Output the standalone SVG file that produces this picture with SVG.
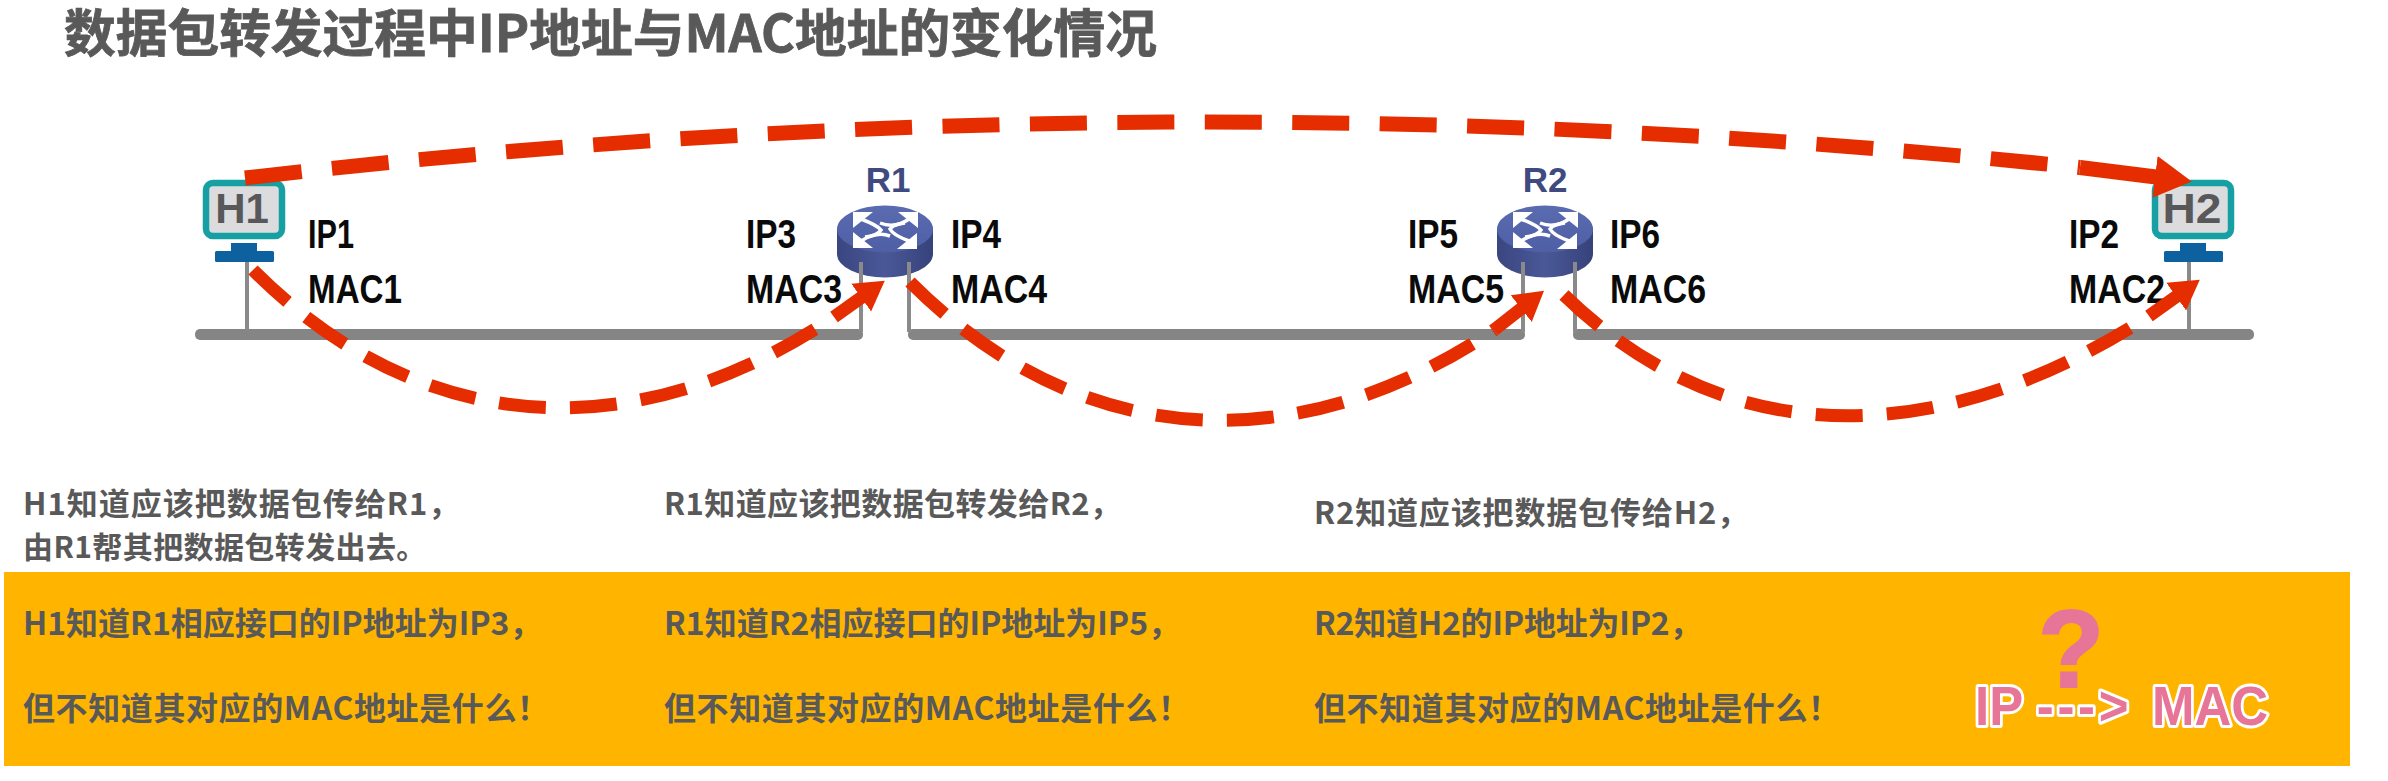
<svg xmlns="http://www.w3.org/2000/svg" width="2388" height="781" viewBox="0 0 2388 781">
<style>
.cjk{font-family:"Noto Sans CJK SC","Noto Sans",sans-serif;font-weight:700;fill:#595959}
.t1{font-size:31px}.t2{font-size:32px}
.lab{font-family:"Liberation Sans",Arial,sans-serif;font-weight:700;font-size:40px;fill:#0a0a0a}
.host{font-family:"Liberation Sans",Arial,sans-serif;font-weight:700;font-size:42px;fill:#58585a;text-anchor:middle}
.rname{font-family:"Liberation Sans",Arial,sans-serif;font-weight:700;font-size:35px;fill:#3f4a80;text-anchor:middle}
.bus{fill:#858585}
.drop{stroke:#8a8a8a;stroke-width:4;fill:none}
.arc{fill:none;stroke:#e52d00;stroke-width:13}
.arcbig{fill:none;stroke:#e52d00;stroke-width:15}
.d1{stroke-dasharray:57 30.45}
.d2{stroke-dasharray:47 24.1}
.pink{font-family:"Liberation Sans",Arial,sans-serif;font-weight:700;fill:#e77597}
</style>
<defs>
<marker id="headS" markerUnits="userSpaceOnUse" markerWidth="40" markerHeight="44" refX="1" refY="22" orient="auto" viewBox="0 0 40 44"><path d="M0 5L29 22L0 39Z" fill="#e52d00"/></marker>
<marker id="headL" markerUnits="userSpaceOnUse" markerWidth="46" markerHeight="50" refX="1" refY="25" orient="auto" viewBox="0 0 46 50"><path d="M0 4L37 25L0 46Z" fill="#e52d00"/></marker>
<linearGradient id="rtop" x1="0" y1="0" x2="0" y2="1"><stop offset="0" stop-color="#5a6bb0"/><stop offset="1" stop-color="#4f5fa6"/></linearGradient>
<linearGradient id="rside" x1="0" y1="0" x2="1" y2="0"><stop offset="0" stop-color="#3a4680"/><stop offset=".5" stop-color="#4a5898"/><stop offset="1" stop-color="#36427a"/></linearGradient>
<g id="routerBody">
<path d="M-48 0V25A48 23.500 0 0 0 48 25V0Z" fill="url(#rside)"/>
<ellipse cx="0" cy="0" rx="48" ry="23.500" fill="url(#rtop)"/>
<g fill="#fff"><path d="M-32-17H-12L-32 -1Z"/><path d="M33-17H13L33 -1Z"/><path d="M-32 19H-12L-32 3Z"/><path d="M32 20H12L32 4Z"/></g>
<g fill="none" stroke="#fff" stroke-width="3.500"><path d="M-24-10Q-8-4-4 1Q-8 7-20 8"/><path d="M24-10Q10 0-5-6"/><path d="M-24 12Q-8 2 5 7"/><path d="M24 12Q8 6 5 0Q9-5 20-6"/></g>
</g>
<g id="monitorBody">
<rect x="3" y="3" width="76" height="53" rx="7" fill="#dcdcde" stroke="#17a0a3" stroke-width="6.500"/>
<rect x="28" y="63" width="26" height="9" fill="#0e619f"/>
<rect x="12" y="71" width="59" height="11" rx="1.500" fill="#0e619f"/>
</g>
</defs>
<rect width="2388" height="781" fill="#fff"/>
<rect id="band" x="4" y="572" width="2346" height="194" fill="#ffb500"/>
<text class="cjk" x="64" y="52" font-size="51" textLength="1093" lengthAdjust="spacingAndGlyphs" stroke="#595959" stroke-width=".8">数据包转发过程中IP地址与MAC地址的变化情况</text>

<g id="network">
<rect class="bus" x="195" y="329" width="668" height="11" rx="5"/>
<rect class="bus" x="908" y="329" width="617" height="11" rx="5"/>
<rect class="bus" x="1573" y="329" width="681" height="11" rx="5"/>
</g>

<g id="node-H1">
<use href="#monitorBody" x="203" y="180"/>
<text class="host" x="242" y="223">H1</text>
<line class="drop" x1="247" y1="262" x2="247" y2="330"/>
</g>
<g id="node-H2">
<use href="#monitorBody" x="2152" y="180"/>
<text class="host" x="2192" y="223" textLength="59" lengthAdjust="spacingAndGlyphs">H2</text>
<line class="drop" x1="2189" y1="262" x2="2189" y2="330"/>
</g>
<g id="node-R1">
<text class="rname" x="888" y="192">R1</text>
<use href="#routerBody" x="885" y="229"/>
<line class="drop" x1="861" y1="262" x2="861" y2="332"/>
<line class="drop" x1="909" y1="262" x2="909" y2="332"/>
</g>
<g id="node-R2">
<text class="rname" x="1545" y="192">R2</text>
<use href="#routerBody" x="1545" y="229"/>
<line class="drop" x1="1523" y1="262" x2="1523" y2="332"/>
<line class="drop" x1="1575" y1="262" x2="1575" y2="332"/>
</g>

<g id="labels">
<text class="lab" x="308" y="248" textLength="46" lengthAdjust="spacingAndGlyphs">IP1</text>
<text class="lab" x="308" y="303" textLength="94" lengthAdjust="spacingAndGlyphs">MAC1</text>
<text class="lab" x="746" y="248" textLength="50" lengthAdjust="spacingAndGlyphs">IP3</text>
<text class="lab" x="746" y="303" textLength="96" lengthAdjust="spacingAndGlyphs">MAC3</text>
<text class="lab" x="951" y="248" textLength="50" lengthAdjust="spacingAndGlyphs">IP4</text>
<text class="lab" x="951" y="303" textLength="96" lengthAdjust="spacingAndGlyphs">MAC4</text>
<text class="lab" x="1408" y="248" textLength="50" lengthAdjust="spacingAndGlyphs">IP5</text>
<text class="lab" x="1408" y="303" textLength="96" lengthAdjust="spacingAndGlyphs">MAC5</text>
<text class="lab" x="1610" y="248" textLength="50" lengthAdjust="spacingAndGlyphs">IP6</text>
<text class="lab" x="1610" y="303" textLength="96" lengthAdjust="spacingAndGlyphs">MAC6</text>
<text class="lab" x="2069" y="248" textLength="50" lengthAdjust="spacingAndGlyphs">IP2</text>
<text class="lab" x="2069" y="303" textLength="96" lengthAdjust="spacingAndGlyphs">MAC2</text>
</g>

<g id="connectors">
<path class="arcbig d1" d="M245 178Q1162 71.500 2080 167.500"/>
<path class="arcbig" d="M2080 167.500L2156 177" marker-end="url(#headL)"/>
<path class="arc d2" d="M253 270C428 445 643 445 834 317"/>
<path class="arc" d="M834 317L862 297" marker-end="url(#headS)"/>
<path class="arc d2" d="M910 282C1085 457 1303 458 1494 330"/>
<path class="arc" d="M1494 330L1522 308" marker-end="url(#headS)"/>
<path class="arc d2" d="M1564 295C1739 465 1958 440 2149 316"/>
<path class="arc" d="M2149 316L2177 296" marker-end="url(#headS)"/>
</g>

<g id="notes">
<text class="cjk t1" x="23" y="515" letter-spacing="1">H1知道应该把数据包传给R1，</text>
<text class="cjk" font-size="30" x="23" y="558" letter-spacing=".4">由R1帮其把数据包转发出去。</text>
<text class="cjk t1" x="664" y="515" letter-spacing=".4">R1知道应该把数据包转发给R2，</text>
<text class="cjk t1" x="1314" y="524" letter-spacing=".85">R2知道应该把数据包传给H2，</text>
<text class="cjk t2" x="23" y="635">H1知道R1相应接口的IP地址为IP3，</text>
<text class="cjk t2" x="664" y="635">R1知道R2相应接口的IP地址为IP5，</text>
<text class="cjk t2" x="1314" y="635" letter-spacing="-.2">R2知道H2的IP地址为IP2，</text>
<text class="cjk t2" x="23" y="720" letter-spacing=".6">但不知道其对应的MAC地址是什么！</text>
<text class="cjk t2" x="664" y="720" letter-spacing=".6">但不知道其对应的MAC地址是什么！</text>
<text class="cjk t2" x="1314" y="720" letter-spacing=".6">但不知道其对应的MAC地址是什么！</text>
</g>

<g id="question">
<text class="pink" x="2038" y="687" font-size="110" textLength="66" lengthAdjust="spacingAndGlyphs" stroke="#e77597" stroke-width="2">?</text>
<text class="pink" transform="translate(1975 725) scale(.91 1)" font-size="56" stroke="#fff" stroke-width="6" paint-order="stroke" stroke-linejoin="round"><tspan x="0">IP </tspan><tspan x="68" letter-spacing="4">---&gt; </tspan><tspan x="194.500">MAC</tspan></text>
</g>
</svg>
